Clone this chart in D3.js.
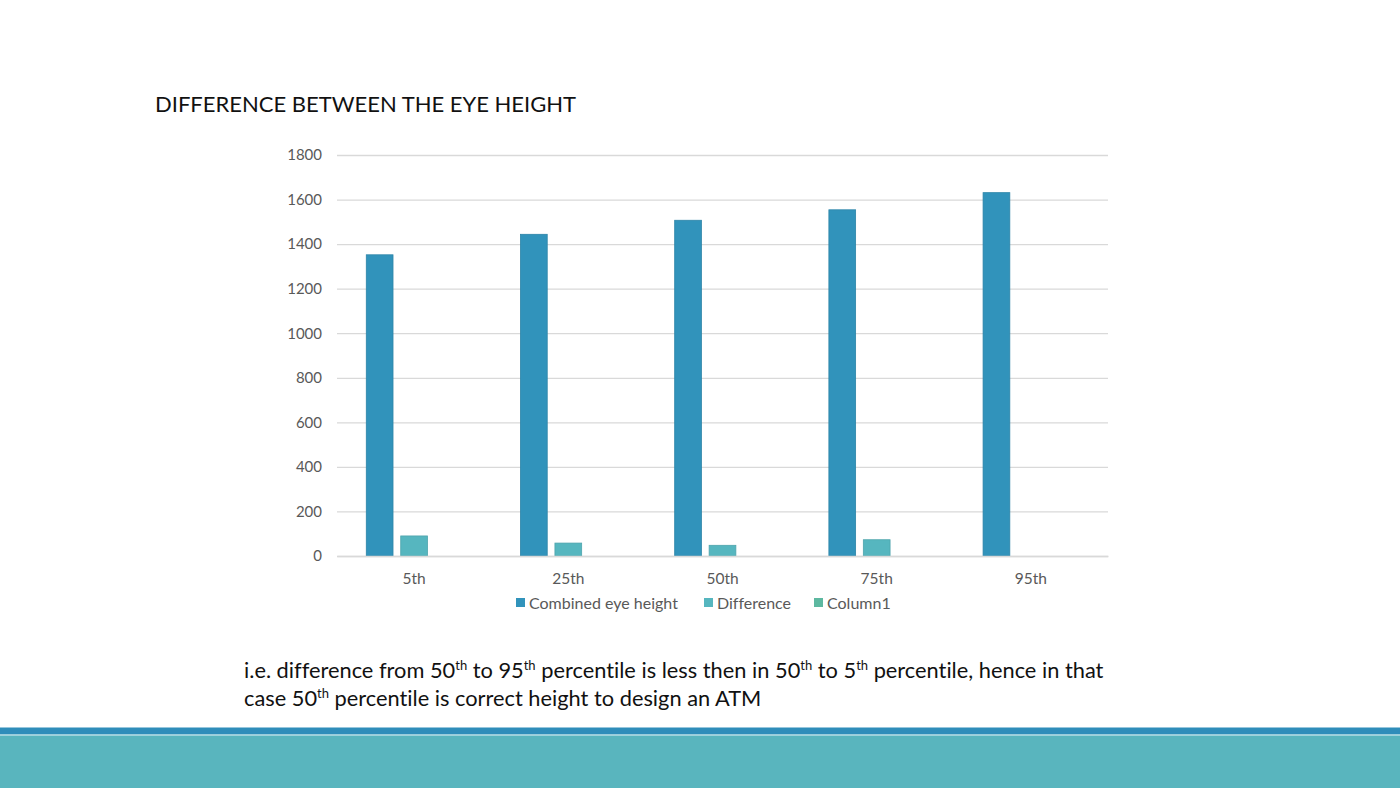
<!DOCTYPE html>
<html><head><meta charset="utf-8">
<script src="https://cdn.jsdelivr.net/npm/d3@7"></script>
<style>html,body{margin:0;padding:0;background:#fff;overflow:hidden} text{font-variant-ligatures:none;font-feature-settings:"liga" 0}</style>
</head><body>
<svg id="c" width="1400" height="788"></svg>
<script>
const categories = ["5th","25th","50th","75th","95th"];
const seriesNames = ["Combined eye height","Difference","Column1"];
const combinedEyeHeight = [1352, 1444, 1507, 1554, 1631];
const difference = [90, 58, 48, 73, null];
const column1 = [null, null, null, null, null];
const yTicks = [0,200,400,600,800,1000,1200,1400,1600,1800];
const colors = ["#3193BB","#56B6BF","#5DB8A0"];

(function(){
const svg = d3.select("#c");
const font = "Lato, 'Open Sans', sans-serif";

svg.append("rect").attr("x",0).attr("y",727.5).attr("width",1400).attr("height",7).attr("fill","#2F8DBA");
svg.append("rect").attr("x",0).attr("y",734.5).attr("width",1400).attr("height",1.5).attr("fill","#9fd3dc");
svg.append("rect").attr("x",0).attr("y",736).attr("width",1400).attr("height",52).attr("fill","#59B5BE");

svg.append("text").attr("x",155).attr("y",112).attr("font-family",font).attr("font-size",22)
  .attr("fill","#111").text("DIFFERENCE BETWEEN THE EYE HEIGHT");

const pL = 337, pR = 1108, pT = 155, pB = 556;
const x0 = d3.scaleBand().domain(categories).range([pL,pR]).paddingInner(0).paddingOuter(0);
const x1 = d3.scaleBand().domain(seriesNames).range([0,x0.bandwidth()]).paddingInner(0.224).paddingOuter(0.85);
const y = d3.scaleLinear().domain([0,1800]).range([pB,pT]);

const g = svg.append("g");
const yAxis = d3.axisLeft(y).tickValues(yTicks).tickSize(-(pR-pL)).tickPadding(15).tickFormat(d3.format("d"));
const ya = g.append("g").attr("transform",`translate(${pL},0)`).call(yAxis);
ya.select(".domain").remove();
ya.selectAll(".tick line").attr("stroke","#d9d9d9").attr("stroke-width",1.3);
ya.selectAll(".tick text").attr("font-family",font).attr("font-size",15).attr("fill","#595959");

const data = [combinedEyeHeight, difference, column1];
seriesNames.forEach((s,si)=>{
  g.append("g").selectAll("rect").data(categories.map((c,i)=>({c,v:data[si][i]})).filter(d=>d.v!=null))
   .join("rect")
   .attr("x",d=>x0(d.c)+x1(s)).attr("width",x1.bandwidth())
   .attr("y",d=>y(d.v)).attr("height",d=>y(0)-y(d.v))
   .attr("fill",colors[si]).attr("stroke",d3.color(colors[si]).darker(0.3)).attr("stroke-width",0.8);
});

const xa = g.append("g").attr("transform",`translate(0,${pB})`).call(d3.axisBottom(x0).tickSize(0).tickPadding(17));
xa.select(".domain").attr("stroke","#d9d9d9").attr("stroke-width",1.3);
xa.selectAll(".tick text").attr("font-family",font).attr("font-size",15.5).attr("fill","#595959");

const legendX = [516, 704, 814];
const lg = svg.append("g");
seriesNames.forEach((s,i)=>{
  lg.append("rect").attr("x",legendX[i]).attr("y",598).attr("width",9).attr("height",9).attr("fill",colors[i]);
  lg.append("text").attr("x",legendX[i]+13).attr("y",608.5).attr("font-family",font).attr("font-size",16)
    .attr("fill","#595959").text(s);
});

const lines = [
  [["i.e. difference from 50",0],["th",1],[" to 95",0],["th",1],[" percentile is less then in 50",0],["th",1],[" to 5",0],["th",1],[" percentile, hence in that",0]],
  [["case 50",0],["th",1],[" percentile is correct height to design an ATM",0]]
];
const lineY = [678, 706];
lines.forEach((ln,li)=>{
  const t = svg.append("text").attr("x",244).attr("y",lineY[li]).attr("font-family",font).attr("font-size",21.8).attr("fill","#111");
  ln.forEach(([txt,sup],i)=>{
    const ts = t.append("tspan").text(txt);
    if(sup) ts.attr("font-size",13).attr("dy",-8);
    else if(i>0 && ln[i-1][1]) ts.attr("dy",8);
  });
});
})();
</script>
</body></html>
